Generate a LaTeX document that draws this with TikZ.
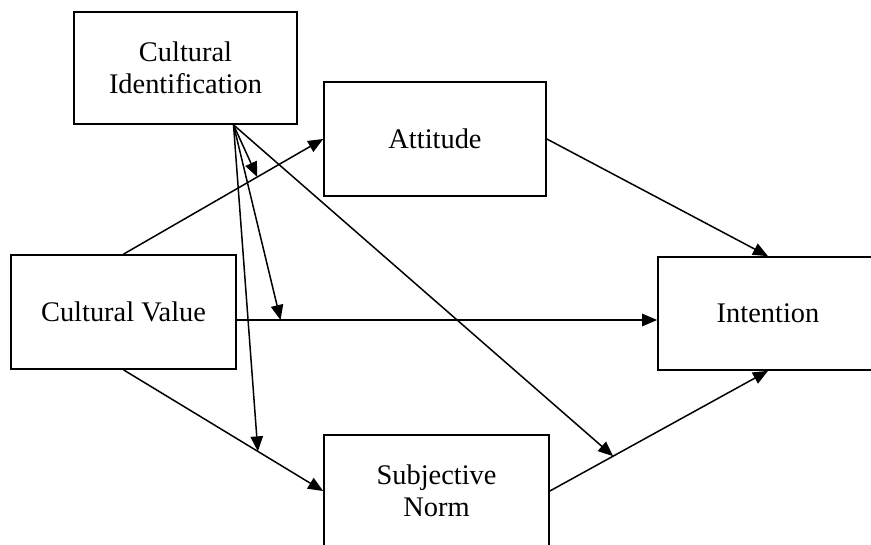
\documentclass[tikz,border=0pt]{standalone}
\usepackage{fontspec}
\setmainfont{Liberation Serif}
\usetikzlibrary{arrows.meta,calc}
\begin{document}
\begin{tikzpicture}[x=0.5pt,y=-0.5pt,
  box/.style={draw,line width=0.85pt,rectangle,align=center,inner sep=0pt,
    font=\fontsize{14.2}{16}\selectfont},
  arr/.style={line width=0.75pt,-{Triangle[length=7.5pt,width=6.2pt]}}]
\useasboundingbox (0,0) rectangle (871,545);
\begin{scope}
\clip (0,0) rectangle (871,545);
% construct boxes
\node[box,minimum width=111.5pt,minimum height=56pt] (ci) at (185.5,68) {Cultural\\Identification};
\node[box,minimum width=111pt,minimum height=57pt] (att) at (435,139) {Attitude};
\node[box,minimum width=112.5pt,minimum height=57pt] (cv) at (123.5,312) {Cultural Value};
\node[box,minimum width=110pt,minimum height=56.5pt] (int) at (768,313.5) {Intention};
\node[box,minimum width=112.5pt,minimum height=56pt] (sn) at (436.5,491) {Subjective\\Norm};
\end{scope}
% direct paths
\draw[arr] (cv.north) -- coordinate[pos=0.67] (m1) (att.west);
\draw[arr] ([yshift=-4pt]cv.east) coordinate (cvr) -- coordinate[pos=0.104] (m2) (cvr -| int.west);
\draw[arr] (cv.south) -- coordinate[pos=0.673] (m3) (sn.west);
\draw[arr] (att.east) -- (int.north);
\draw[arr] (sn.east) -- coordinate[pos=0.29] (m4) (int.south);
% moderating paths of cultural identification
\coordinate (cis) at ([xshift=24pt]ci.south);
\draw[arr] (cis) -- (m1);
\draw[arr] (cis) -- (m2);
\draw[arr] (cis) -- (m3);
\draw[arr] (cis) -- (m4);
\end{tikzpicture}
\end{document}
